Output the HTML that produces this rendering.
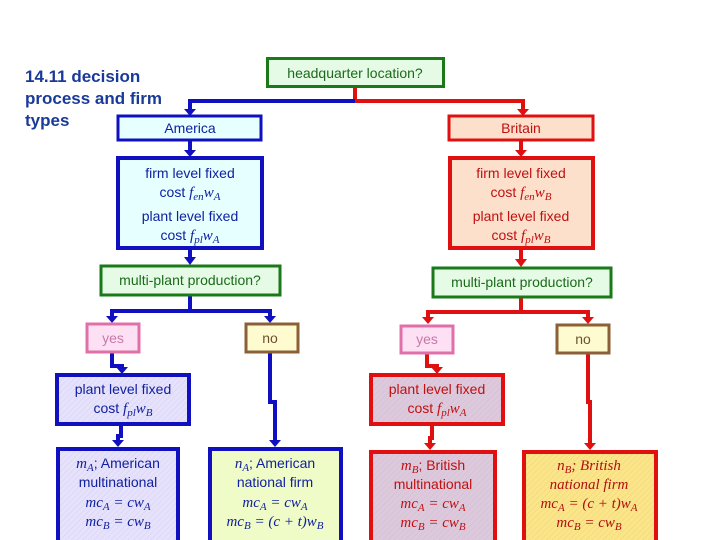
<!DOCTYPE html>
<html><head><meta charset="utf-8"><style>
html,body{margin:0;padding:0;background:#fff;}
svg{display:block;}
.s{font-family:"Liberation Sans",sans-serif;font-size:14px;}
.m{font-family:"Liberation Serif",serif;font-style:italic;font-size:15px;}
</style></head><body>
<svg width="720" height="540" viewBox="0 0 720 540" xmlns="http://www.w3.org/2000/svg">
<defs>
<pattern id="h1" width="4" height="4" patternUnits="userSpaceOnUse" patternTransform="rotate(45)"><rect width="4" height="4" fill="#e6e2fb"/><line x1="0" y1="0" x2="0" y2="4" stroke="#d6d0f4" stroke-width="1"/></pattern>
<pattern id="h2" width="4" height="4" patternUnits="userSpaceOnUse" patternTransform="rotate(45)"><rect width="4" height="4" fill="#fbe58a"/><line x1="0" y1="0" x2="0" y2="4" stroke="#f0d470" stroke-width="1"/></pattern>
<pattern id="h3" width="4" height="4" patternUnits="userSpaceOnUse" patternTransform="rotate(45)"><rect width="4" height="4" fill="#ddc9dc"/><line x1="0" y1="0" x2="0" y2="4" stroke="#d2bcd2" stroke-width="1"/></pattern>
</defs>

<!-- title -->
<g font-family="Liberation Sans,sans-serif" font-weight="bold" font-size="17" fill="#1a3a9a">
<text x="25" y="82">14.11 decision</text>
<text x="25" y="104">process and firm</text>
<text x="25" y="126">types</text>
</g>

<!-- connectors top -->
<g fill="none" stroke-width="4">
<path d="M355 88 V101 H523 V112" stroke="#e01010"/>
<path d="M355 101 H190 V112" stroke="#1010c0"/>
<path d="M190 140 V154" stroke="#1010c0"/>
<path d="M521 140 V154" stroke="#e01010"/>
<path d="M190 248 V262" stroke="#1010c0"/>
<path d="M521 249 V264" stroke="#e01010"/>
<path d="M190 295 V311 M112 320 V311 H270 V320" stroke="#1010c0"/>
<path d="M521 297 V312 M428 321 V312 H588 V321" stroke="#e01010"/>
<path d="M112 353 V366 H122 V371" stroke="#1010c0"/>
<path d="M121 425 V436 H118 V444" stroke="#1010c0"/>
<path d="M270 352 V402 H275 V444" stroke="#1010c0"/>
<path d="M427 353 V366 H437 V371" stroke="#e01010"/>
<path d="M432 425 V438 H430 V447" stroke="#e01010"/>
<path d="M588 353 V402 H590 V447" stroke="#e01010"/>
</g>
<g fill="#1010c0">
<path d="M184 109 H196 L190 116 Z"/><path d="M184 150 H196 L190 157 Z"/><path d="M184 257 H196 L190 265 Z"/>
<path d="M106 316 H118 L112 323 Z"/><path d="M264 316 H276 L270 323 Z"/>
<path d="M116 367 H128 L122 374 Z"/><path d="M112 440 H124 L118 447 Z"/><path d="M269 440 H281 L275 447 Z"/>
</g>
<g fill="#e01010">
<path d="M517 109 H529 L523 116 Z"/><path d="M515 150 H527 L521 157 Z"/><path d="M515 259 H527 L521 267 Z"/>
<path d="M422 317 H434 L428 324 Z"/><path d="M582 317 H594 L588 324 Z"/>
<path d="M431 367 H443 L437 374 Z"/><path d="M424 443 H436 L430 450 Z"/><path d="M584 443 H596 L590 450 Z"/>
</g>

<!-- boxes -->
<rect x="267.5" y="58.5" width="176" height="28" fill="#e6fbe6" stroke="#1a7a1a" stroke-width="3"/>
<text x="355" y="78" class="s" text-anchor="middle" fill="#1a6a1a">headquarter location?</text>

<rect x="118" y="116" width="143" height="24" fill="#e6ffff" stroke="#1010c0" stroke-width="3"/>
<text x="190" y="133" class="s" text-anchor="middle" fill="#1020a0">America</text>
<rect x="449" y="116" width="144" height="24" fill="#fde0cc" stroke="#e01010" stroke-width="3"/>
<text x="521" y="133" class="s" text-anchor="middle" fill="#c01010">Britain</text>

<rect x="118" y="158" width="144" height="90" fill="#e6ffff" stroke="#1010c0" stroke-width="4"/>
<g text-anchor="middle" fill="#1020a0">
<text x="190" y="178" class="s">firm level fixed</text>
<text x="190" y="197" class="s">cost <tspan class="m">f<tspan font-size="11" dy="3">en</tspan><tspan dy="-3">w</tspan><tspan font-size="11" dy="3">A</tspan></tspan></text>
<text x="190" y="221" class="s">plant level fixed</text>
<text x="190" y="240" class="s">cost <tspan class="m">f<tspan font-size="11" dy="3">pl</tspan><tspan dy="-3">w</tspan><tspan font-size="11" dy="3">A</tspan></tspan></text>
</g>
<rect x="450" y="158" width="143" height="90" fill="#fde0cc" stroke="#e01010" stroke-width="4"/>
<g text-anchor="middle" fill="#c01010">
<text x="521" y="178" class="s">firm level fixed</text>
<text x="521" y="197" class="s">cost <tspan class="m">f<tspan font-size="11" dy="3">en</tspan><tspan dy="-3">w</tspan><tspan font-size="11" dy="3">B</tspan></tspan></text>
<text x="521" y="221" class="s">plant level fixed</text>
<text x="521" y="240" class="s">cost <tspan class="m">f<tspan font-size="11" dy="3">pl</tspan><tspan dy="-3">w</tspan><tspan font-size="11" dy="3">B</tspan></tspan></text>
</g>

<rect x="101" y="266" width="179" height="29" fill="#e6fbe6" stroke="#1a7a1a" stroke-width="3"/>
<text x="190" y="285" class="s" text-anchor="middle" fill="#1a6a1a">multi-plant production?</text>
<rect x="433" y="268" width="178" height="29" fill="#e6fbe6" stroke="#1a7a1a" stroke-width="3"/>
<text x="522" y="287" class="s" text-anchor="middle" fill="#1a6a1a">multi-plant production?</text>

<rect x="87" y="324" width="52" height="28" fill="#fde0f4" stroke="#e070a8" stroke-width="3"/>
<text x="113" y="343" class="s" text-anchor="middle" fill="#c878a8">yes</text>
<rect x="246" y="324" width="52" height="28" fill="#fffbd0" stroke="#8b6038" stroke-width="3"/>
<text x="270" y="343" class="s" text-anchor="middle" fill="#6a5030">no</text>
<rect x="401" y="326" width="52" height="27" fill="#fde0f4" stroke="#e070a8" stroke-width="3"/>
<text x="427" y="344" class="s" text-anchor="middle" fill="#c878a8">yes</text>
<rect x="557" y="325" width="52" height="28" fill="#fffbd0" stroke="#8b6038" stroke-width="3"/>
<text x="583" y="344" class="s" text-anchor="middle" fill="#6a5030">no</text>

<rect x="57" y="375" width="132" height="49" fill="url(#h1)" stroke="#1010c0" stroke-width="4"/>
<g text-anchor="middle" fill="#1020a0">
<text x="123" y="394" class="s">plant level fixed</text>
<text x="123" y="413" class="s">cost <tspan class="m">f<tspan font-size="11" dy="3">pl</tspan><tspan dy="-3">w</tspan><tspan font-size="11" dy="3">B</tspan></tspan></text>
</g>
<rect x="371" y="375" width="132" height="49" fill="url(#h3)" stroke="#e01010" stroke-width="4"/>
<g text-anchor="middle" fill="#c01010">
<text x="437" y="394" class="s">plant level fixed</text>
<text x="437" y="413" class="s">cost <tspan class="m">f<tspan font-size="11" dy="3">pl</tspan><tspan dy="-3">w</tspan><tspan font-size="11" dy="3">A</tspan></tspan></text>
</g>

<rect x="58" y="449" width="120" height="95" fill="url(#h1)" stroke="#1010c0" stroke-width="4"/>
<g text-anchor="middle" fill="#1020a0">
<text x="118" y="468" class="s"><tspan class="m">m<tspan font-size="11" dy="3">A</tspan></tspan><tspan dy="-3">; American</tspan></text>
<text x="118" y="487" class="s">multinational</text>
<text x="118" y="507" class="m">mc<tspan font-size="11" dy="3">A</tspan><tspan dy="-3"> = cw</tspan><tspan font-size="11" dy="3">A</tspan></text>
<text x="118" y="526" class="m">mc<tspan font-size="11" dy="3">B</tspan><tspan dy="-3"> = cw</tspan><tspan font-size="11" dy="3">B</tspan></text>
</g>
<rect x="210" y="449" width="131" height="95" fill="#f0fcc8" stroke="#1010c0" stroke-width="4"/>
<g text-anchor="middle" fill="#1020a0">
<text x="275" y="468" class="s"><tspan class="m">n<tspan font-size="11" dy="3">A</tspan></tspan><tspan dy="-3">; American</tspan></text>
<text x="275" y="487" class="s">national firm</text>
<text x="275" y="507" class="m">mc<tspan font-size="11" dy="3">A</tspan><tspan dy="-3"> = cw</tspan><tspan font-size="11" dy="3">A</tspan></text>
<text x="275" y="526" class="m">mc<tspan font-size="11" dy="3">B</tspan><tspan dy="-3"> = (c + t)w</tspan><tspan font-size="11" dy="3">B</tspan></text>
</g>
<rect x="371" y="452" width="124" height="92" fill="url(#h3)" stroke="#e01010" stroke-width="4"/>
<g text-anchor="middle" fill="#c01010">
<text x="433" y="470" class="s"><tspan class="m">m<tspan font-size="11" dy="3">B</tspan></tspan><tspan dy="-3">; British</tspan></text>
<text x="433" y="489" class="s">multinational</text>
<text x="433" y="508" class="m">mc<tspan font-size="11" dy="3">A</tspan><tspan dy="-3"> = cw</tspan><tspan font-size="11" dy="3">A</tspan></text>
<text x="433" y="527" class="m">mc<tspan font-size="11" dy="3">B</tspan><tspan dy="-3"> = cw</tspan><tspan font-size="11" dy="3">B</tspan></text>
</g>
<rect x="524" y="452" width="132" height="92" fill="url(#h2)" stroke="#e01010" stroke-width="4"/>
<g text-anchor="middle" fill="#b01010">
<text x="589" y="470" class="m"><tspan>n</tspan><tspan font-size="11" dy="3">B</tspan><tspan dy="-3">; British</tspan></text>
<text x="589" y="489" class="m">national firm</text>
<text x="589" y="508" class="m">mc<tspan font-size="11" dy="3">A</tspan><tspan dy="-3"> = (c + t)w</tspan><tspan font-size="11" dy="3">A</tspan></text>
<text x="589" y="527" class="m">mc<tspan font-size="11" dy="3">B</tspan><tspan dy="-3"> = cw</tspan><tspan font-size="11" dy="3">B</tspan></text>
</g>
</svg>
</body></html>
